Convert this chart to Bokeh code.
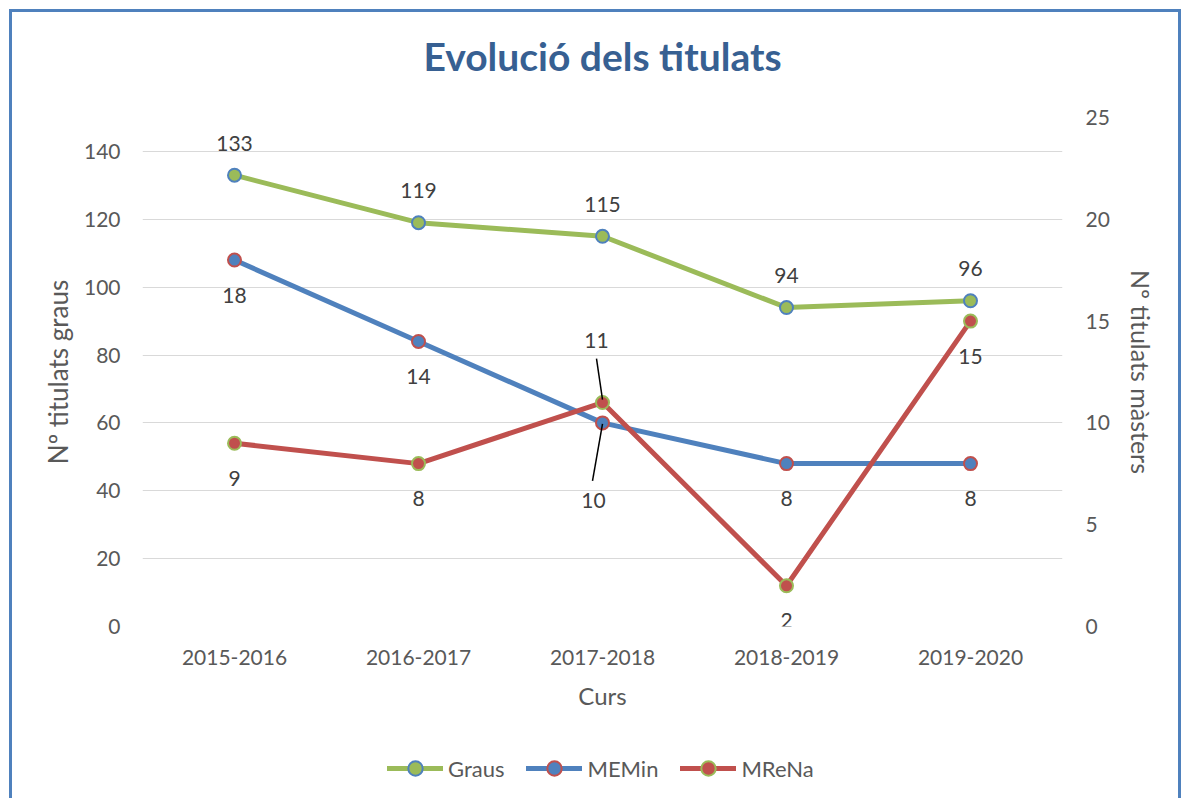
import math
from bokeh.plotting import figure
from bokeh.layouts import column
from bokeh.models import (ColumnDataSource, Range1d, LinearAxis, SingleIntervalTicker,
                          FactorRange, Legend, LegendItem, Title)
from bokeh.transform import dodge
from bokeh.embed import file_html
from bokeh.resources import INLINE

# ---------------- data ----------------
cursos = ["2015-2016", "2016-2017", "2017-2018", "2018-2019", "2019-2020"]
graus = [133, 119, 115, 94, 96]
memin = [18, 14, 10, 8, 8]
mrena = [9, 8, 11, 2, 15]
series_names = ["Graus", "MEMin", "MReNa"]

left_max, left_step = 150, 20
right_max, right_step = 25, 5

# ---------------- style ----------------
FONT = "Lato"
GREEN, BLUE, RED = "#9BBB59", "#4F81BD", "#C0504D"
TXT = "#595959"
LBL = "#404040"

W, H, HL = 1166, 720, 66
ML, MR, MT, MB = 130, 116, 105, 106
FW, FH = W - ML - MR, H - MT - MB

p = figure(x_range=FactorRange(*cursos), y_range=Range1d(0, left_max),
           width=W, height=H, output_backend="svg", toolbar_location=None,
           min_border_left=ML, min_border_right=MR, min_border_top=MT, min_border_bottom=MB,
           title="Evolució dels titulats")
p.background_fill_color = "white"
p.border_fill_color = "white"
p.outline_line_color = None

p.title.text_font = FONT
p.title.text_font_style = "bold"
p.title.text_font_size = "39px"
p.title.text_color = "#376092"
p.title.align = "center"
p.title.standoff = 35
# small gap between the title block and the plot area
p.add_layout(Title(text=" ", text_font_size="8px", standoff=10), "above")

p.extra_y_ranges = {"m": Range1d(0, right_max)}
p.yaxis.ticker = SingleIntervalTicker(interval=left_step, num_minor_ticks=0)
p.yaxis.axis_label = "Nº titulats graus"
p.xaxis.axis_label = "Curs"
raxis = LinearAxis(y_range_name="m", ticker=SingleIntervalTicker(interval=right_step, num_minor_ticks=0),
                   axis_label="Nº titulats màsters")
p.add_layout(raxis, "right")

for ax in p.axis:
    ax.axis_line_color = None
    ax.major_tick_line_color = None
    ax.minor_tick_line_color = None
    ax.major_tick_out = 0
    ax.major_tick_in = 0
    ax.minor_tick_out = 0
    ax.minor_tick_in = 0
    ax.major_label_text_font = FONT
    ax.major_label_text_font_size = "21px"
    ax.major_label_text_color = TXT
    ax.axis_label_text_font = FONT
    ax.axis_label_text_font_size = "25px"
    ax.axis_label_text_font_style = "normal"
    ax.axis_label_text_color = TXT
p.xaxis.axis_label_text_font_size = "24px"
p.yaxis[0].axis_label_text_font_size = "26px"
p.yaxis[0].major_label_standoff = 22
p.yaxis[0].axis_label_standoff = 7
raxis.major_label_standoff = 23
raxis.axis_label_standoff = 13
p.xaxis.major_label_standoff = 23
p.xaxis.axis_label_standoff = 13

p.xgrid.grid_line_color = None
p.ygrid.grid_line_color = "#D9D9D9"
p.ygrid.grid_line_width = 1

# legend strip (separate canvas under the chart)
p2 = figure(x_range=p.x_range, y_range=Range1d(-1001, -1000), width=W, height=HL,
            output_backend="svg", toolbar_location=None,
            x_axis_location=None, y_axis_location=None, min_border=0)
p2.outline_line_color = None
p2.background_fill_color = "white"
p2.border_fill_color = "white"
for g in p2.grid:
    g.visible = False

# ---------------- series ----------------
spec = [
    ("Graus", graus, GREEN, GREEN, BLUE, None, -32),
    ("MEMin", memin, BLUE, BLUE, RED, "m", 35),
    ("MReNa", mrena, RED, RED, GREEN, "m", 35),
]
label_overrides = {("MReNa", "2017-2018"): (-6, -62), ("MEMin", "2017-2018"): (-9, 78)}
leaders = {("MReNa", "2017-2018"): ((0, -3), (-6, -44)),
           ("MEMin", "2017-2018"): ((0, 1), (-10, 58))}

px_per_cat = FW / len(cursos)
items = []
for name, vals, lc, fc, oc, yr, yoff in spec:
    kw = {} if yr is None else {"y_range_name": yr}
    src = ColumnDataSource(dict(x=cursos, y=vals))
    line_kw = dict(line_color=lc, line_width=5, line_join="round", line_cap="round")
    mark_kw = dict(size=13, fill_color=fc, line_color=oc, line_width=2)
    p.line("x", "y", source=src, **line_kw, **kw)
    p.scatter("x", "y", source=src, **mark_kw, **kw)
    # legend proxies (same data, outside the strip's visible range)
    l2 = p2.line("x", "y", source=src, **line_kw)
    s2 = p2.scatter("x", "y", source=src, **mark_kw)
    items.append(LegendItem(label=name, renderers=[l2, s2]))

    xo = [label_overrides.get((name, c), (0, yoff))[0] for c in cursos]
    yo = [label_overrides.get((name, c), (0, yoff))[1] for c in cursos]
    lsrc = ColumnDataSource(dict(x=cursos, y=vals, t=[str(v) for v in vals], xo=xo, yo=yo))
    p.text("x", "y", text="t", source=lsrc, x_offset="xo", y_offset="yo",
           text_font={"value": FONT}, text_font_size="21px", text_color=LBL,
           text_align="center", text_baseline="middle", **kw)

    ppu = FH / (right_max if yr else left_max)
    for (nm, c), ((dx0, dy0), (dx1, dy1)) in leaders.items():
        if nm != name:
            continue
        v = vals[cursos.index(c)]
        seg = ColumnDataSource(dict(x0=[c], x1=[c], y0=[v - dy0 / ppu], y1=[v - dy1 / ppu]))
        p.segment(x0=dodge("x0", dx0 / px_per_cat, range=p.x_range),
                  x1=dodge("x1", dx1 / px_per_cat, range=p.x_range),
                  y0="y0", y1="y1", source=seg, line_color="black", line_width=1.5, **kw)

legend = Legend(items=items, location=(245, 12), orientation="horizontal",
                glyph_width=56, glyph_height=36, label_standoff=5, spacing=22, padding=0, margin=0,
                border_line_color=None, background_fill_alpha=0,
                label_text_font=FONT, label_text_font_size="22px", label_text_color=TXT)
p2.add_layout(legend)

layout = column(p, p2, spacing=0,
                styles={"margin-left": "9px", "margin-top": "9px",
                        "border-top": "3px solid #4F81BD", "border-left": "3px solid #4F81BD",
                        "border-right": "3px solid #4F81BD"})

open("out.html", "w").write(file_html(layout, INLINE))
